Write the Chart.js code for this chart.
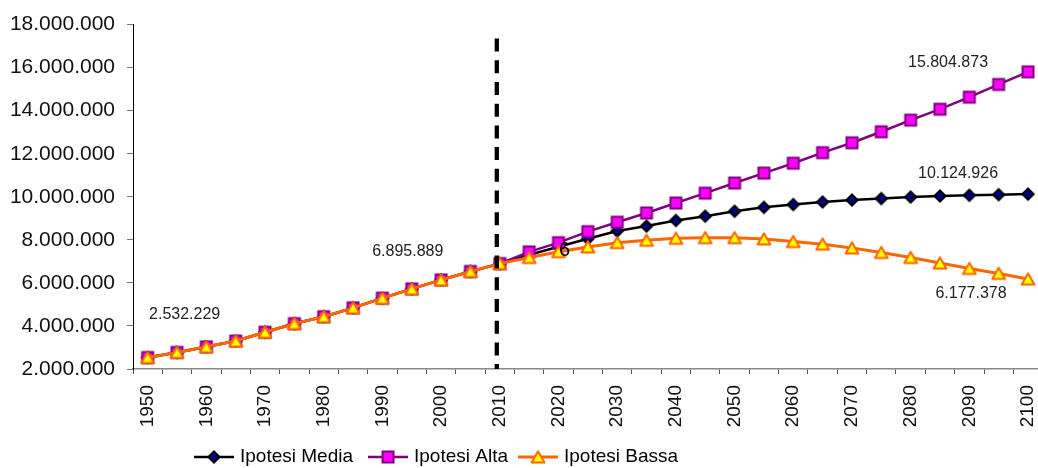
<!DOCTYPE html>
<html><head><meta charset="utf-8">
<script src="https://cdn.jsdelivr.net/npm/chart.js@4/dist/chart.umd.min.js"></script>
<style>
html,body{margin:0;padding:0;background:#fff;overflow:hidden;width:1038px;height:468px}
#wrap{position:relative;width:1062px;height:468px}
</style></head>
<body><div id="wrap"><canvas id="c" width="1062" height="468"></canvas></div>
<script>
const years = ['1950','1955','1960','1965','1970','1975','1980','1985','1990','1995','2000','2005','2010','2015','2020','2025','2030','2035','2040','2045','2050','2055','2060','2065','2070','2075','2080','2085','2090','2095','2100'];
const media = [2532229,2770000,3030000,3300000,3710000,4110000,4430000,4840000,5290000,5720000,6140000,6530000,6895889,7300000,7680000,8050000,8410000,8640000,8900000,9100000,9330000,9510000,9640000,9760000,9850000,9920000,9990000,10040000,10070000,10100000,10124926];
const alta = [2532229,2770000,3030000,3300000,3710000,4110000,4430000,4840000,5290000,5720000,6140000,6530000,6895889,7440000,7870000,8380000,8820000,9250000,9710000,10170000,10640000,11100000,11560000,12050000,12510000,13020000,13560000,14070000,14630000,15220000,15804873];
const bassa = [2532229,2770000,3030000,3300000,3710000,4110000,4430000,4840000,5290000,5720000,6140000,6530000,6895889,7180000,7450000,7670000,7870000,7980000,8070000,8100000,8100000,8040000,7920000,7800000,7620000,7410000,7180000,6920000,6670000,6440000,6177378];
const seriesNames = ['Ipotesi Media','Ipotesi Alta','Ipotesi Bassa'];
const yMin = 2000000, yMax = 18000000, yStep = 2000000;

const FONT = '"Liberation Sans", Arial, sans-serif';
const fmt = v => Math.round(v).toString().replace(/\B(?=(\d{3})+(?!\d))/g, '.');

function makeMarker(type, fill, stroke){
  const c = document.createElement('canvas'); c.width = 16; c.height = 16;
  const g = c.getContext('2d');
  g.fillStyle = fill; g.strokeStyle = stroke; g.lineWidth = 2;
  g.beginPath();
  if (type === 'square'){ g.rect(2.5,2.5,11,11); }
  else if (type === 'diamond'){ g.lineJoin='miter'; g.moveTo(8,2.4); g.lineTo(13.6,8); g.lineTo(8,13.6); g.lineTo(2.4,8); g.closePath(); }
  else { g.lineJoin='round'; g.moveTo(8,2.3); g.lineTo(14.4,13.6); g.lineTo(1.6,13.6); g.closePath(); }
  g.fill(); g.stroke();
  return c;
}
const mDiamond = makeMarker('diamond','#000080','#000000');
const mSquare = makeMarker('square','#FF00FF','#800080');
const mTri = makeMarker('triangle','#FFFF00','#FF6600');

const styles = [
  {color:'#000000', width:2.5, marker:mDiamond},
  {color:'#800080', width:2.5, marker:mSquare},
  {color:'#FF6600', width:3, marker:mTri}
];

const labels = [
  {ds:2, idx:0, text:fmt(bassa[0]), dx:37, dy:-43, size:16},
  {ds:2, idx:12, text:fmt(bassa[12]), dx:-92, dy:-12, size:16},
  {ds:1, idx:30, text:fmt(alta[30]), dx:-80, dy:-9, size:16},
  {ds:0, idx:30, text:fmt(media[30]), dx:-70, dy:-21, size:16},
  {ds:2, idx:30, text:fmt(bassa[30]), dx:-57, dy:15, size:16},
  {ds:0, idx:14, text:'6', dx:6, dy:4, size:20}
];
const legendGaps = [15, 10];

const overlay = {
  id:'overlay',
  afterDatasetsDraw(chart){
    const ctx = chart.ctx, xs = chart.scales.x, ys = chart.scales.y, ca = chart.chartArea;
    const x = xs.getPixelForValue(years.indexOf('2010')) - 3;
    ctx.save();
    ctx.strokeStyle = '#000'; ctx.lineWidth = 4.3; ctx.setLineDash([13,8.7]);
    ctx.beginPath(); ctx.moveTo(x, ys.getPixelForValue(17350000)); ctx.lineTo(x, ca.bottom); ctx.stroke();
    ctx.restore();
    ctx.save();
    ctx.textAlign = 'center'; ctx.textBaseline = 'middle';
    labels.forEach(l => {
      const p = chart.getDatasetMeta(l.ds).data[l.idx];
      ctx.font = l.size + 'px ' + FONT;
      ctx.fillStyle = l.text === '6' ? '#000' : '#222';
      ctx.fillText(l.text, p.x + l.dx, p.y + l.dy);
    });
    ctx.restore();
  },
  afterDraw(chart){
    const ctx = chart.ctx;
    ctx.save();
    ctx.font = '19px ' + FONT; ctx.textBaseline = 'middle'; ctx.fillStyle = '#000';
    let x = 194; const y = 457;
    seriesNames.forEach((n,i) => {
      const s = styles[i];
      ctx.strokeStyle = s.color; ctx.lineWidth = s.width;
      ctx.beginPath(); ctx.moveTo(x, y); ctx.lineTo(x + 40, y); ctx.stroke();
      ctx.drawImage(s.marker, x + 20 - 8, y - 8);
      ctx.fillText(n, x + 46, y);
      x += 46 + ctx.measureText(n).width + (legendGaps[i] || 0);
    });
    ctx.restore();
  }
};

const series = [media, alta, bassa];
new Chart(document.getElementById('c'), {
  type:'line',
  data:{
    labels: years,
    datasets: series.map((d,i) => ({
      label: seriesNames[i], data: d,
      borderColor: styles[i].color, borderWidth: styles[i].width,
      pointStyle: styles[i].marker, pointRadius: 8, pointHoverRadius: 8,
      backgroundColor: styles[i].color, tension: 0, fill: false,
      order: 2 - i
    }))
  },
  options:{
    responsive:false, animation:false,
    layout:{padding:{top:22, left:0, right:2, bottom:0}},
    plugins:{legend:{display:false}, tooltip:{enabled:false}},
    scales:{
      x:{
        offset:true,
        grid:{display:true, drawOnChartArea:false, drawTicks:true, tickLength:5, offset:true, color:'#555', lineWidth:1},
        border:{display:true, color:'#888', width:1.5},
        ticks:{autoSkip:false, minRotation:90, maxRotation:90, padding:11, color:'#111',
          font:{family:FONT, size:19},
          callback:(v,i) => (i % 2 === 0 ? years[i] : '')},
        afterFit:(s) => { s.height = 99; }
      },
      y:{
        min:yMin, max:yMax,
        grid:{display:true, drawOnChartArea:false, drawTicks:true, tickLength:6, color:'#777'},
        border:{display:true, color:'#000', width:1},
        ticks:{stepSize:yStep, padding:12, color:'#111', font:{family:FONT, size:21},
          callback:(v) => fmt(v)},
        afterFit:(s) => { s.width = 133; }
      }
    }
  },
  plugins:[overlay]
});
</script>
</body></html>
